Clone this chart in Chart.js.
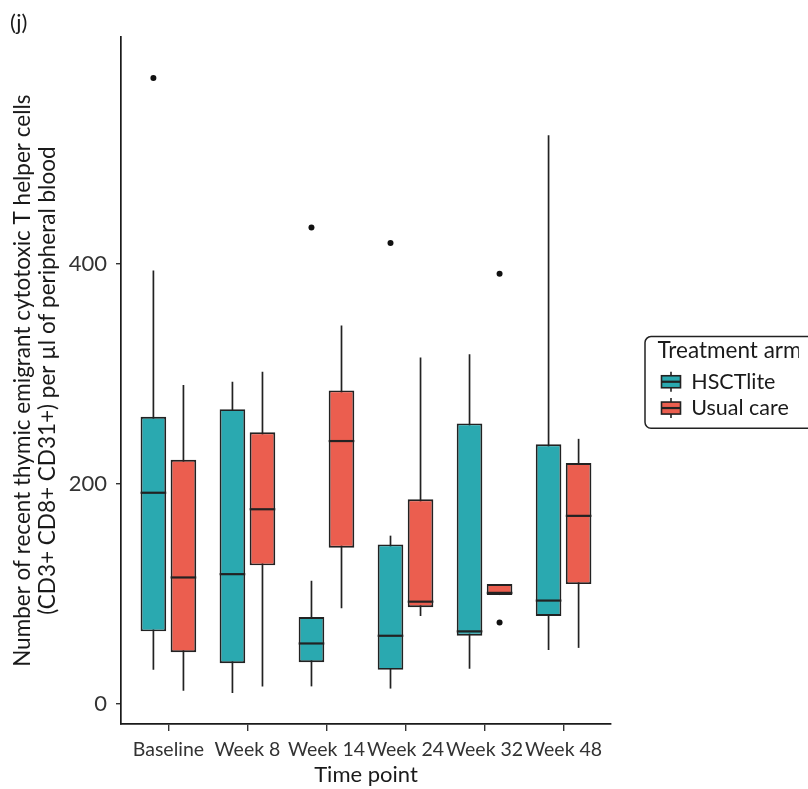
<!DOCTYPE html>
<html>
<head>
<meta charset="utf-8">
<script src="https://cdn.jsdelivr.net/npm/chart.js@4.4.1/dist/chart.umd.min.js"></script>
<style>
  html, body { margin: 0; padding: 0; background: #fff; }
  #wrap { width: 808px; height: 789px; position: relative; }
</style>
</head>
<body>
<div id="wrap"><canvas id="boxChart"></canvas></div>
<script>
// time points and y ticks
const timePoints = ["Baseline", "Week 8", "Week 14", "Week 24", "Week 32", "Week 48"];
const yTicks = [0, 200, 400];

// HSCTlite: whisker ends, quartiles, medians, outliers
const hsctLow = [31, 10, 16, 14, 32, 49];
const hsctQ1 = [66, 37, 38, 31, 62, 80];
const hsctMedian = [192, 118, 55, 62, 66, 94];
const hsctQ3 = [261, 268, 79, 145, 255, 236];
const hsctHigh = [394, 293, 112, 153, 318, 517];
const hsctOutliers = [[569], [], [433], [419], [], []];

// Usual care
const usualLow = [12, 16, 87, 80, 99, 51];
const usualQ1 = [47, 126, 142, 88, 99, 109];
const usualMedian = [115, 177, 239, 93, 101, 171];
const usualQ3 = [222, 247, 285, 186, 109, 219];
const usualHigh = [290, 302, 344, 315, 109, 241];
const usualOutliers = [[], [], [], [], [391, 74], []];

const armNames = ["HSCTlite", "Usual care"];
const armColors = ["#2aa9b0", "#eb5e4f"];
const inkColor = "#222222";
const fontFamily = "Lato, 'Open Sans', sans-serif";

const arms = [
    { low: hsctLow, q1: hsctQ1, median: hsctMedian, q3: hsctQ3, high: hsctHigh, outliers: hsctOutliers },
    { low: usualLow, q1: usualQ1, median: usualMedian, q3: usualQ3, high: usualHigh, outliers: usualOutliers },
];

// legend sizes (needed to place the plot area exactly)
const legendFontSize = 21.5;
const legendBoxW = 19;
const legendPad = 4;
const measureCtx = document.createElement("canvas").getContext("2d");
measureCtx.font = `${legendFontSize}px ${fontFamily}`;
const legendTextW = Math.max(...armNames.map((t) => measureCtx.measureText(t).width));
const legendWidth = legendPad + legendBoxW + legendFontSize / 2 + legendTextW + 10;
const legendLeft = 657.5;
const plotRight = 611;
const rightPadding = Math.max(0, 808 - legendLeft - legendWidth);

// whiskers, medians, outliers and the legend glyphs
const boxExtras = {
    id: "boxExtras",
    beforeDatasetsDraw(chart) {
        const ctx = chart.ctx;
        const y = chart.scales.y;
        ctx.save();
        ctx.strokeStyle = inkColor;
        ctx.lineWidth = 1.7;
        arms.forEach((arm, i) => {
            chart.getDatasetMeta(i).data.forEach((bar, j) => {
                ctx.beginPath();
                ctx.moveTo(bar.x, y.getPixelForValue(arm.low[j]));
                ctx.lineTo(bar.x, y.getPixelForValue(arm.high[j]));
                ctx.stroke();
            });
        });
        ctx.restore();
    },
    afterDatasetsDraw(chart) {
        const ctx = chart.ctx;
        const y = chart.scales.y;
        ctx.save();
        arms.forEach((arm, i) => {
            chart.getDatasetMeta(i).data.forEach((bar, j) => {
                const py = y.getPixelForValue(arm.median[j]);
                ctx.strokeStyle = inkColor;
                ctx.lineWidth = 2.2;
                ctx.beginPath();
                ctx.moveTo(bar.x - bar.width / 2, py);
                ctx.lineTo(bar.x + bar.width / 2, py);
                ctx.stroke();
                ctx.fillStyle = "#111";
                arm.outliers[j].forEach((v) => {
                    ctx.beginPath();
                    ctx.arc(bar.x, y.getPixelForValue(v), 3, 0, Math.PI * 2);
                    ctx.fill();
                });
            });
        });
        ctx.restore();
    },
    afterDraw(chart) {
        const legend = chart.legend;
        const boxes = legend.legendHitBoxes;
        if (!boxes || !boxes.length) return;
        const ctx = chart.ctx;
        ctx.save();
        boxes.forEach((hb, i) => {
            const cx = hb.left + legendBoxW / 2;
            const cy = hb.top + hb.height / 2;
            ctx.strokeStyle = inkColor;
            ctx.lineWidth = 1.6;
            ctx.beginPath();
            ctx.moveTo(cx, cy - 10);
            ctx.lineTo(cx, cy + 10);
            ctx.stroke();
            ctx.fillStyle = armColors[i];
            ctx.fillRect(cx - 9.5, cy - 6, 19, 12);
            ctx.strokeRect(cx - 9.5, cy - 6, 19, 12);
            ctx.lineWidth = 2.2;
            ctx.beginPath();
            ctx.moveTo(cx - 9.5, cy);
            ctx.lineTo(cx + 9.5, cy);
            ctx.stroke();
        });
        // rounded frame round the legend, running off the right edge
        const first = boxes[0];
        const last = boxes[boxes.length - 1];
        ctx.strokeStyle = inkColor;
        ctx.lineWidth = 1.5;
        ctx.beginPath();
        ctx.roundRect(legend.left - 12.5, first.top - 34, 220, last.top + last.height - first.top + 43, 6);
        ctx.stroke();
        ctx.restore();
    },
};

new Chart(document.getElementById("boxChart"), {
    type: "bar",
    data: {
        datasets: arms.map((arm, i) => ({
            label: armNames[i],
            data: timePoints.map((t, j) => ({ x: j + 1, y: [arm.q1[j], arm.q3[j]] })),
            backgroundColor: armColors[i],
            borderColor: inkColor,
            borderWidth: 1.9,
            borderSkipped: false,
            categoryPercentage: 0.76,
            barPercentage: 0.853,
        })),
    },
    plugins: [boxExtras],
    options: {
        responsive: true,
        maintainAspectRatio: false,
        animation: false,
        layout: { padding: { left: 10, right: rightPadding, top: 0, bottom: 0 } },
        plugins: {
            tooltip: { enabled: false },
            title: {
                display: true,
                text: "(j)",
                align: "start",
                color: "#1a1a1a",
                font: { family: fontFamily, size: 22, weight: "normal" },
                padding: { top: 9.3, bottom: 1.6 },
            },
            legend: {
                display: true,
                position: "right",
                align: "center",
                fullSize: false,
                maxWidth: 400,
                title: {
                    display: true,
                    text: "Treatment arm",
                    position: "start",
                    color: "#1a1a1a",
                    font: { family: fontFamily, size: 22.5 },
                    padding: { top: 1.5, bottom: 0 },
                },
                labels: {
                    boxWidth: legendBoxW,
                    boxHeight: 22.3,
                    padding: legendPad,
                    color: "#1a1a1a",
                    font: { family: fontFamily, size: legendFontSize },
                    generateLabels: () => armNames.map((name, i) => ({
                        text: name,
                        fillStyle: "rgba(0,0,0,0)",
                        strokeStyle: "rgba(0,0,0,0)",
                        lineWidth: 0,
                        hidden: false,
                        datasetIndex: i,
                    })),
                },
            },
        },
        scales: {
            x: {
                type: "linear",
                min: 0.4,
                max: 6.6,
                offset: false,
                afterBuildTicks: (scale) => {
                    scale.ticks = timePoints.map((t, i) => ({ value: i + 1 }));
                },
                afterFit: (scale) => { scale.height = 65; },
                ticks: {
                    autoSkip: false,
                    maxRotation: 0,
                    padding: 7,
                    color: "#333",
                    font: { family: fontFamily, size: 19.5 },
                    callback: (v) => timePoints[v - 1],
                },
                grid: { offset: false, drawOnChartArea: false, tickLength: 7, color: "#333", lineWidth: 1.4 },
                border: { display: true, color: "#1a1a1a", width: 1.7 },
                title: {
                    display: true,
                    text: "Time point",
                    color: "#1a1a1a",
                    font: { family: fontFamily, size: 22 },
                    padding: { top: 0, bottom: 1 },
                },
            },
            y: {
                type: "linear",
                min: -18.2,
                max: 606,
                afterBuildTicks: (scale) => {
                    scale.ticks = yTicks.map((v) => ({ value: v }));
                },
                afterFit: (scale) => { scale.width = 111; },
                ticks: {
                    padding: 9,
                    color: "#333",
                    font: { family: fontFamily, size: 22 },
                },
                grid: { drawOnChartArea: false, tickLength: 5, color: "#333", lineWidth: 1.4 },
                border: { display: true, color: "#1a1a1a", width: 1.7 },
                title: {
                    display: true,
                    text: [
                        "Number of recent thymic emigrant cytotoxic T helper cells",
                        "(CD3+ CD8+ CD31+) per µl of peripheral blood",
                    ],
                    color: "#1a1a1a",
                    font: { family: fontFamily, size: 22.5, lineHeight: 1.11 },
                    padding: { top: 0, bottom: 0 },
                },
            },
            gap: {
                type: "linear",
                position: "right",
                display: true,
                afterFit: (scale) => { scale.width = legendLeft - plotRight; },
                ticks: { display: false },
                grid: { display: false, drawTicks: false },
                border: { display: false },
            },
        },
    },
});
</script>
</body>
</html>
